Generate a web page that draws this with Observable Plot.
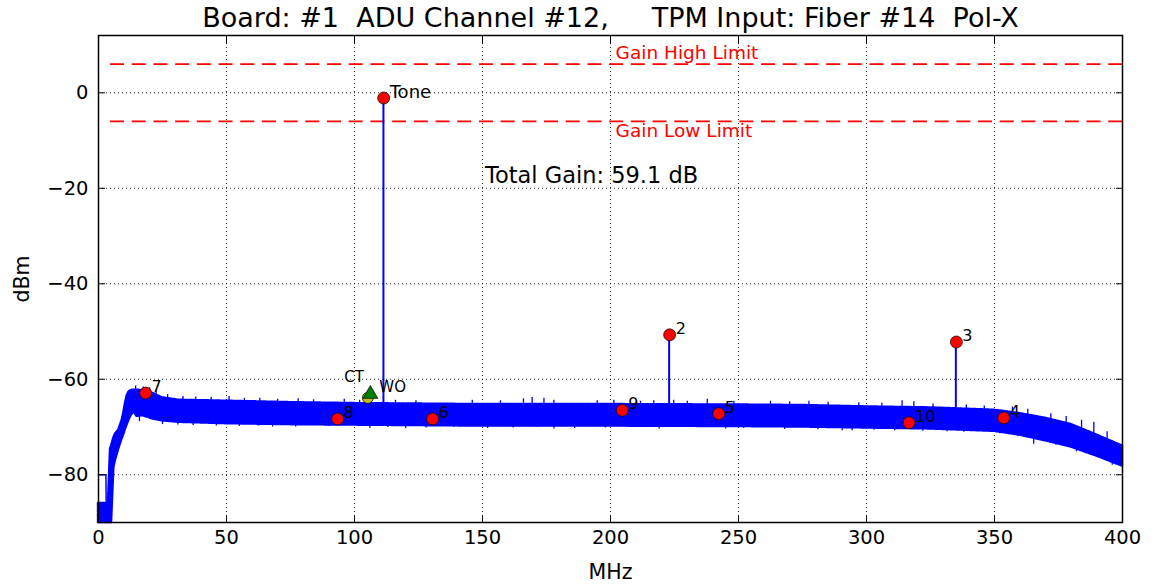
<!DOCTYPE html>
<html><head><meta charset="utf-8">
<script src="https://cdn.jsdelivr.net/npm/d3@7"></script>
<script src="https://cdn.jsdelivr.net/npm/@observablehq/plot@0.6"></script>
<style>
body{margin:0;background:#fff;}
svg text{white-space:pre;}
</style></head><body><div id="chart"></div>
<script>
// ---- data ----
const titleText = "Board: #1  ADU Channel #12,     TPM Input: Fiber #14  Pol-X";
const xTicks = [0, 50, 100, 150, 200, 250, 300, 350, 400];
const yTicks = [-80, -60, -40, -20, 0];

// spectrum noise band envelope (MHz, upper dBm, lower dBm)
const bandMHz   = [0, 3.9, 4.7, 5.1, 6.0, 6.6, 7.9, 9.2, 9.9, 10.5, 11.2, 11.8, 12.5, 13.8, 15.1, 17, 19.7, 21.0, 24.9, 31.4, 50, 75, 100, 125, 150, 200, 250, 275, 300, 325, 350, 360, 370, 380, 390, 400];
const bandUpper = [-86, -86, -74.6, -74, -72.3, -71.5, -70.7, -68.7, -67, -65.2, -63.5, -62.8, -62.4, -62.3, -62.3, -62.4, -62.6, -62.9, -63.9, -64.4, -64.6, -64.9, -65.1, -65.2, -65.3, -65.3, -65.4, -65.5, -65.8, -66.0, -66.5, -67.2, -68.2, -69.5, -71.7, -74.0];
const bandLower = [-90, -90, -90, -90, -78.5, -77, -74.6, -72.5, -71.5, -70.5, -69.5, -68.7, -67.8, -66.8, -67.8, -67.6, -68.0, -68.3, -68.7, -69.0, -69.3, -69.5, -69.6, -69.7, -69.8, -69.8, -69.9, -70.0, -70.2, -70.4, -70.9, -71.7, -72.9, -74.2, -76.1, -78.2];

// low-frequency trace at the left edge
const edgeMHz = [0, 2.9, 3.0];
const edgeDBm = [-80, -80, -86];

// noise spikes sticking out of the band (MHz, dBm)
const spikeMHz = [14.5, 17.5, 20, 22.5, 27, 33, 38, 44, 51, 57, 63, 70, 78, 84, 96, 102, 116, 124, 146, 157, 166, 169.4, 174, 177.9, 194.8, 201.3, 211.7, 216.9, 224.7, 230, 237.8, 248.2, 262.5, 270, 277.5, 285, 297, 306, 313.9, 318.5, 326, 339, 346, 357, 363, 372, 378, 384, 388.8, 394,
                  16, 25, 31, 37, 46, 55, 62.5, 68, 77, 90, 106, 113, 120, 128, 138.8, 152, 162, 171.4, 177.9, 186, 198, 206.5, 219, 232.5, 245, 252, 258.6, 268, 281, 290.5, 294.4, 303, 311, 322, 331.5, 338, 344.5, 352, 359, 365.3, 374, 382, 390.1, 396];
const spikeDBm = [-61.4, -61.6, -61.8, -62.3, -63.2, -63.6, -63.7, -63.8, -63.6, -64.0, -64.0, -64.2, -64.1, -64.3, -64.2, -64.4, -64.4, -64.5, -64.4, -64.5, -64.1, -63.8, -64.0, -64.4, -64.5, -64.4, -64.6, -64.5, -64.4, -64.6, -64.2, -64.6, -64.6, -64.7, -64.6, -64.8, -64.9, -65.0, -64.5, -64.7, -65.2, -65.4, -65.6, -65.8, -66.3, -67.2, -67.8, -68.6, -69.0, -71.0,
                  -68.9, -69.5, -69.6, -69.7, -69.8, -69.9, -69.8, -70.0, -70.0, -69.9, -70.3, -70.1, -70.3, -70.2, -70.1, -70.3, -70.2, -70.1, -70.4, -70.3, -70.2, -70.1, -70.4, -70.1, -70.4, -70.3, -70.1, -70.5, -70.6, -70.8, -70.8, -70.7, -70.8, -70.9, -71.0, -71.1, -70.8, -71.4, -72.0, -73.6, -73.8, -75.2, -76.3, -78.0];

// detected peaks
const peakLabels = ["Tone", "2", "3", "4", "5", "6", "7", "8", "9", "10"];
const peakMHz = [111.4, 223.1, 335.1, 353.6, 242.3, 130.5, 18.4, 93.4, 204.6, 316.6];
const peakDBm = [-1.1, -50.7, -52.2, -68.1, -67.2, -68.3, -62.9, -68.3, -66.5, -69.1];
const peakFont = [18, 16, 16, 16, 16, 16, 16, 16, 16, 16];
// spectral lines (stems) rising out of the noise floor
const stemMHz = [111.3, 222.9, 334.9];
const stemTop = [-1.1, -50.7, -52.2];
const stemBase = [-66, -66, -66.5];

// CT / WO markers
const ctMHz = 105.2, ctDBm = -63.9;
const woMHz = 106.2, woDBm = -63.1;

// gain limits
const limitLevels = [6, -6];
const limitStartMHz = 4.7;
const limitLabels = ["Gain High Limit", "Gain Low Limit"];
const limitLabelMHz = [202, 202];
const limitLabelDBm = [8.4, -8.1];

const gainText = "Total Gain: 59.1 dB";
const gainMHz = 151, gainDBm = -17.3;

// ---- build tables ----
const band = bandMHz.map((x, i) => ({x, hi: bandUpper[i], lo: bandLower[i]}));
const bandMid = d3.scaleLinear(bandMHz, bandMHz.map((x, i) => (bandUpper[i] + bandLower[i]) / 2));
const edge = edgeMHz.map((x, i) => ({x, y: edgeDBm[i]}));
const spikes = spikeMHz.map((x, i) => ({x, y: spikeDBm[i], base: bandMid(x)}));
const peaks = peakMHz.map((x, i) => ({x, y: peakDBm[i], label: peakLabels[i], fs: peakFont[i]}));
const stems = stemMHz.map((x, i) => ({x, y1: stemBase[i], y2: stemTop[i]}));
const limits = limitLabels.map((t, i) => ({t, x: limitLabelMHz[i], y: limitLabelDBm[i]}));
const minus = d => String(d).replace("-", "\u2212");
const BLUE = "#0000ff";

const chart = Plot.plot({
  width: 1153, height: 588,
  marginLeft: 98, marginRight: 31, marginTop: 35, marginBottom: 66,
  style: {fontFamily: "DejaVu Sans", background: "#fff", color: "#000", overflow: "visible"},
  x: {domain: [0, 400]},
  y: {domain: [-90, 12]},
  marks: [
    Plot.gridX(xTicks, {stroke: "#000", strokeOpacity: 0.85, strokeDasharray: "1,3"}),
    Plot.gridY(yTicks, {stroke: "#000", strokeOpacity: 0.85, strokeDasharray: "1,3"}),
    Plot.ruleY(limitLevels, {y: d => d, x1: limitStartMHz, x2: 400, stroke: "#ff0000", strokeWidth: 1.8, strokeDasharray: "14,7.7"}),
    Plot.text(limits, {x: "x", y: "y", text: "t", fill: "#ff0000", fontSize: 18.5, textAnchor: "start"}),
    Plot.areaY(band, {x: "x", y1: "lo", y2: "hi", fill: BLUE, stroke: BLUE, strokeWidth: 1}),
    Plot.areaY(band, {x: "x", y1: "lo", y2: "hi", fill: "none", stroke: BLUE, strokeWidth: 2.5, strokeDasharray: "1,1.3,2,1"}),
    Plot.line(edge, {x: "x", y: "y", stroke: BLUE, strokeWidth: 1.5}),
    Plot.ruleX(spikes, {x: "x", y1: "base", y2: "y", stroke: BLUE, strokeWidth: 1.3}),
    Plot.ruleX(stems, {x: "x", y1: "y1", y2: "y2", stroke: BLUE, strokeWidth: 2}),
    Plot.dot(peaks, {x: "x", y: "y", r: 6, fill: "#ff0000", stroke: "#000", strokeWidth: 0.7}),
    Plot.text(peaks, {x: "x", y: "y", text: "label", dx: 6, dy: -6, textAnchor: "start", fontSize: "fs", fill: "#000"}),
    Plot.dot([ctDBm], {x: () => ctMHz, y: d => d, r: 5.5, fill: "#bfbf00", stroke: "#000", strokeWidth: 0.7}),
    Plot.dot([woDBm], {x: () => woMHz, y: d => d, r: 5.5, symbol: "triangle", fill: "#008000", stroke: "#000", strokeWidth: 0.7}),
    Plot.text(["CT"], {x: () => ctMHz, y: () => ctDBm, text: d => d, dx: -4, dy: -21, textAnchor: "end", fontSize: 15}),
    Plot.text(["WO"], {x: () => woMHz, y: () => woDBm, text: d => d, dx: 9, dy: -7, textAnchor: "start", fontSize: 15}),
    Plot.text([gainText], {x: () => gainMHz, y: () => gainDBm, text: d => d, textAnchor: "start", fontSize: 22.5}),
    Plot.frame({stroke: "#000", strokeWidth: 1.5}),
    Plot.axisX(xTicks, {anchor: "bottom", tickSize: 0, tickPadding: 8, fontSize: 19.5, tickFormat: minus, label: null}),
    Plot.axisX(xTicks, {anchor: "bottom", tickSize: -7, fill: "none", label: null}),
    Plot.axisX(xTicks, {anchor: "top", tickSize: -7, fill: "none", label: null}),
    Plot.axisY(yTicks, {anchor: "left", tickSize: 0, tickPadding: 10, fontSize: 19.5, tickFormat: minus, label: null}),
    Plot.axisY(yTicks, {anchor: "left", tickSize: -7, fill: "none", label: null}),
    Plot.axisY(yTicks, {anchor: "right", tickSize: -7, fill: "none", label: null}),
    Plot.text([titleText], {frameAnchor: "top", lineAnchor: "middle", text: d => d, dy: -17, fontSize: 27}),
    Plot.text(["MHz"], {frameAnchor: "bottom", lineAnchor: "middle", text: d => d, dy: 50, fontSize: 20.5}),
    Plot.text(["dBm"], {frameAnchor: "left", lineAnchor: "middle", textAnchor: "middle", text: d => d, dx: -76, rotate: -90, fontSize: 20.5})
  ]
});
document.getElementById("chart").appendChild(chart);
</script></body></html>
